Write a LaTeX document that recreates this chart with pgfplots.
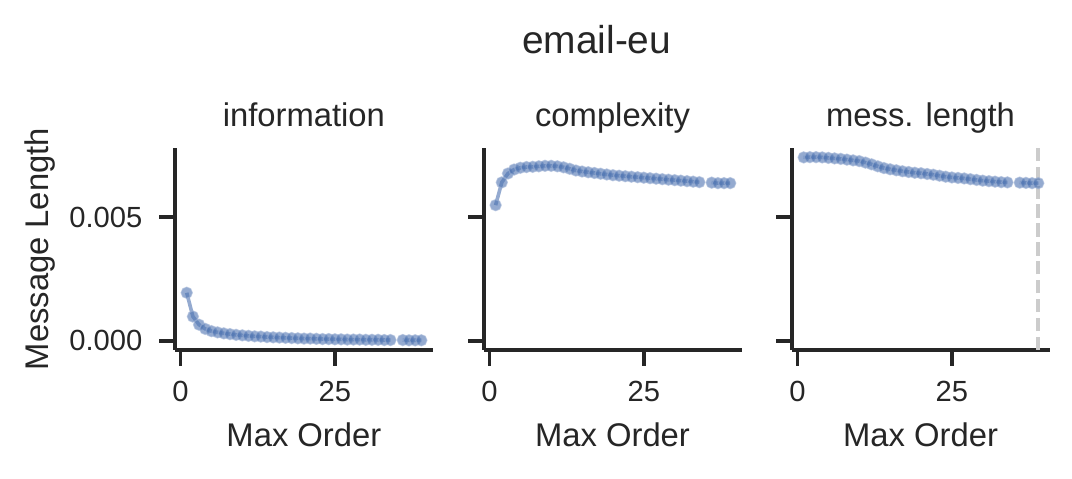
\documentclass[border=0pt]{standalone}
\usepackage{pgfplots}
\usepackage{pgfplotstable}
\pgfplotsset{compat=1.18}
\usepackage{fontspec}
\setmainfont{Liberation Sans}

\definecolor{txt}{HTML}{262626}
\definecolor{sblue}{HTML}{4C72B0}
\definecolor{vgray}{HTML}{CCCCCC}

% max order vs. message length, order 35 missing
\pgfplotstableread{
x y
1 0.00194
2 0.00098
3 0.00065
4 0.00048
5 0.00039
6 0.00034
7 0.00030
8 0.00027
9 0.00024
10 0.00022
11 0.00020
12 0.00018
13 0.00017
14 0.00015
15 0.00014
16 0.00013
17 0.00012
18 0.00011
19 0.00010
20 0.00009
21 0.00009
22 0.00008
23 0.00007
24 0.00007
25 0.00006
26 0.00006
27 0.00005
28 0.00005
29 0.00005
30 0.00004
31 0.00004
32 0.00004
33 0.00003
34 0.00003
35 nan
36 0.00003
37 0.00002
38 0.00002
39 0.00002
}\information

\pgfplotstableread{
x y
1 0.00548
2 0.00640
3 0.00676
4 0.00692
5 0.00699
6 0.00702
7 0.00703
8 0.00705
9 0.00707
10 0.00707
11 0.00705
12 0.00701
13 0.00695
14 0.00688
15 0.00684
16 0.00681
17 0.00678
18 0.00675
19 0.00672
20 0.00669
21 0.00667
22 0.00665
23 0.00663
24 0.00661
25 0.00659
26 0.00657
27 0.00655
28 0.00653
29 0.00651
30 0.00649
31 0.00647
32 0.00645
33 0.00643
34 0.00641
35 nan
36 0.00639
37 0.00637
38 0.00637
39 0.00637
}\complexity

\pgfplotstableread{
x y
1 0.00741
2 0.00742
3 0.00742
4 0.00741
5 0.00739
6 0.00737
7 0.00735
8 0.00732
9 0.00729
10 0.00726
11 0.00720
12 0.00713
13 0.00705
14 0.00698
15 0.00693
16 0.00689
17 0.00685
18 0.00682
19 0.00679
20 0.00677
21 0.00674
22 0.00671
23 0.00667
24 0.00663
25 0.00660
26 0.00658
27 0.00656
28 0.00653
29 0.00650
30 0.00647
31 0.00645
32 0.00643
33 0.00641
34 0.00640
35 nan
36 0.00639
37 0.00638
38 0.00637
39 0.00637
}\messlength

\pgfplotsset{
  panel/.style={
    scale only axis, width=92.9pt, height=72.7pt,
    xmin=-0.9, xmax=40.9, ymin=-0.00037, ymax=0.00779,
    axis x line*=bottom, axis y line*=left,
    axis line style={-, txt, line width=1.3pt},
    xtick={0,25}, ytick={0,0.005},
    tick align=outside, major tick length=5.7pt,
    major tick style={txt, line width=1.3pt},
    tick label style={font=\fontsize{10.5pt}{12pt}\selectfont, text=txt},
    xticklabel style={yshift=-2pt},
    /pgf/number format/assume math mode=true,
    scaled y ticks=false,
    yticklabel style={xshift=-2.5pt, /pgf/number format/.cd, fixed, fixed zerofill, precision=3},
    unbounded coords=jump,
  },
  series/.style={sblue, line width=1.3pt, opacity=0.6,
    mark=*, mark size=2pt,
    mark options={fill=sblue, draw=sblue!55!white, line width=0.45pt}},
}

\begin{document}
\begin{tikzpicture}
\path[use as bounding box] (0,0) rectangle (385.92pt,172.08pt);

\begin{axis}[panel, at={(63pt,46.1pt)}, anchor=south west]
  \addplot[series] table[x=x, y=y] {\information};
\end{axis}

\begin{axis}[panel, at={(174.2pt,46.1pt)}, anchor=south west, yticklabels={}]
  \addplot[series] table[x=x, y=y] {\complexity};
\end{axis}

\begin{axis}[panel, at={(285.1pt,46.1pt)}, anchor=south west, yticklabels={}]
  \addplot[vgray, line width=1.4pt, dash pattern=on 4.8pt off 2pt] coordinates {(39,-0.00037) (39,0.00779)};
  \addplot[series] table[x=x, y=y] {\messlength};
\end{axis}

\begin{scope}[every node/.style={text=txt, inner sep=0pt}]
  \node[anchor=base, font=\fontsize{14pt}{16pt}\selectfont] at (214.8pt,152.9pt) {email-eu};
  \foreach \cx/\ttl in {109.4/information, 220.5/complexity, 331.4/mess. length} {
    \node[anchor=base, font=\fontsize{11.8pt}{14pt}\selectfont] at (\cx pt,126.4pt) {\ttl};
    \node[anchor=base, font=\fontsize{11.8pt}{14pt}\selectfont] at (\cx pt,11.3pt) {Max Order};
  }
  \node[anchor=base, rotate=90, font=\fontsize{11.8pt}{14pt}\selectfont] at (17.4pt,82.4pt) {Message Length};
\end{scope}
\end{tikzpicture}
\end{document}
